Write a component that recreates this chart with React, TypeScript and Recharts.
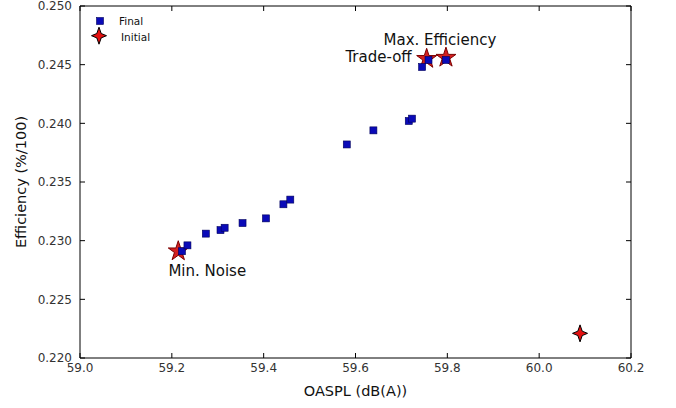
import React from 'react';
import {Label, Scatter, ScatterChart, XAxis, YAxis} from "recharts";

// final designs (blue squares)
const finalX = [59.222, 59.234, 59.274, 59.306, 59.315, 59.354, 59.405, 59.443, 59.458, 59.581, 59.639, 59.716, 59.723, 59.745, 59.759, 59.797];
const finalY = [0.2291, 0.2296, 0.2306, 0.2309, 0.2311, 0.2315, 0.2319, 0.2331, 0.2335, 0.2382, 0.2394, 0.2402, 0.2404, 0.2448, 0.2454, 0.2454];

// initial design
const initialX = [60.089];
const initialY = [0.2221];

// highlighted designs (red stars) and their notes
const starX = [59.214, 59.755, 59.797];
const starY = [0.2291, 0.2455, 0.2456];
const starNotes = ['Min. Noise', 'Trade-off', 'Max. Efficiency'];

const xTicks = [59.0, 59.2, 59.4, 59.6, 59.8, 60.0, 60.2];
const yTicks = [0.220, 0.225, 0.230, 0.235, 0.240, 0.245, 0.250];

const finalData = finalX.map((x, i) => ({x, y: finalY[i]}));
const initialData = initialX.map((x, i) => ({x, y: initialY[i]}));
const starData = starX.map((x, i) => ({x, y: starY[i], note: starNotes[i]}));

const FONT = 'DejaVu Sans, sans-serif';
const NOTE_STYLE: Record<string, {dx: number, dy: number, anchor: string}> = {
    'Min. Noise': {dx: 29, dy: 25, anchor: 'middle'},
    'Trade-off': {dx: -15, dy: 3, anchor: 'end'},
    'Max. Efficiency': {dx: -6, dy: -13, anchor: 'middle'},
};

const starPath = (cx: number, cy: number, R: number) => {
    const r = R * 0.382;
    let d = '';
    for (let i = 0; i < 10; i++) {
        const rad = i % 2 === 0 ? R : r;
        const a = -Math.PI / 2 + i * Math.PI / 5;
        d += (i === 0 ? 'M' : 'L') + (cx + rad * Math.cos(a)).toFixed(2) + ',' + (cy + rad * Math.sin(a)).toFixed(2);
    }
    return d + 'Z';
};

const diamondPath = (cx: number, cy: number) =>
    `M${cx},${cy - 8.5} L${cx + 2.2},${cy - 2.2} L${cx + 7.5},${cy} L${cx + 2.2},${cy + 2.2} L${cx},${cy + 8.5} L${cx - 2.2},${cy + 2.2} L${cx - 7.5},${cy} L${cx - 2.2},${cy - 2.2}Z`;

const Square = (props: any) => {
    const {cx, cy} = props;
    return <rect x={cx - 3.5} y={cy - 3.5} width={7} height={7} fill="#0a0ab8" stroke="#00005a" strokeWidth={0.6}/>;
};

const Diamond = (props: any) => {
    const {cx, cy} = props;
    return <path d={diamondPath(cx, cy)} fill="#e41010" stroke="#000" strokeWidth={1}/>;
};

const Star = (props: any) => {
    const {cx, cy, payload} = props;
    const s = NOTE_STYLE[payload.note];
    return (
        <g>
            <path d={starPath(cx, cy, 10.5)} fill="#d42020" stroke="#7a0000" strokeWidth={1}/>
            <text x={cx + s.dx} y={cy + s.dy} textAnchor={s.anchor} fontFamily={FONT} fontSize={15} fill="#111">{payload.note}</text>
        </g>
    );
};

const tickStyle = {fill: '#333', fontSize: 12, fontFamily: FONT};

const App = () => {
    return (
        <div style={{position: 'absolute', left: 0, top: 0, width: 676, height: 408, background: '#fff'}}>
            <ScatterChart width={676} height={408} margin={{top: 5, right: 44, left: 0, bottom: 0}}>
                <XAxis xAxisId={0} dataKey="x" type="number" domain={[59.0, 60.2]} ticks={xTicks} interval={0}
                       tickFormatter={(v: number) => v.toFixed(1)} tickSize={-5} tickMargin={10} height={50}
                       stroke="#000" tick={tickStyle} allowDataOverflow>
                    <Label value="OASPL (dB(A))" position="insideBottom" offset={12}
                           style={{fontFamily: FONT, fontSize: 14.5, fill: '#111'}}/>
                </XAxis>
                <XAxis xAxisId="top" orientation="top" dataKey="x" type="number" domain={[59.0, 60.2]} ticks={xTicks}
                       interval={0} tickFormatter={() => ''} tickSize={-5} height={1} stroke="#000" allowDataOverflow/>
                <YAxis yAxisId={0} dataKey="y" type="number" domain={[0.220, 0.250]} ticks={yTicks} interval={0}
                       tickFormatter={(v: number) => v.toFixed(3)} tickSize={-5} tickMargin={13} width={80}
                       stroke="#000" tick={tickStyle} allowDataOverflow>
                    <Label content={(p: any) => {
                        const vb = p.viewBox;
                        const cy = vb.y + vb.height / 2;
                        return <text x={21} y={cy} transform={`rotate(-90, 21, ${cy})`} textAnchor="middle"
                                     dominantBaseline="central" fontFamily={FONT} fontSize={14.5}
                                     fill="#111">Efficiency (%/100)</text>;
                    }}/>
                </YAxis>
                <YAxis yAxisId="right" orientation="right" dataKey="y" type="number" domain={[0.220, 0.250]}
                       ticks={yTicks} interval={0} tickFormatter={() => ''} tickSize={-5} width={1} stroke="#000"
                       allowDataOverflow/>
                <Scatter name="Highlight" data={starData} xAxisId={0} yAxisId={0} shape={Star} isAnimationActive={false}/>
                <Scatter name="Initial" data={initialData} xAxisId={0} yAxisId={0} shape={Diamond} isAnimationActive={false}/>
                <Scatter name="Final" data={finalData} xAxisId={0} yAxisId={0} shape={Square} isAnimationActive={false}/>
                <Scatter name="frame" data={finalData} xAxisId="top" yAxisId="right" shape={() => <g/>} isAnimationActive={false}/>
            </ScatterChart>
            <svg width={120} height={50} style={{position: 'absolute', left: 80, top: 6, pointerEvents: 'none'}}>
                <rect x={16.5} y={11.5} width={7} height={7} fill="#0a0ab8" stroke="#00005a" strokeWidth={0.6}/>
                <text x={39} y={18.8} fontFamily={FONT} fontSize={10.5} fill="#111">Final</text>
                <path d={diamondPath(19, 29.7)} fill="#e41010" stroke="#000" strokeWidth={1}/>
                <text x={41} y={34.8} fontFamily={FONT} fontSize={10.5} fill="#111">Initial</text>
            </svg>
        </div>
    );
};

export default App;
